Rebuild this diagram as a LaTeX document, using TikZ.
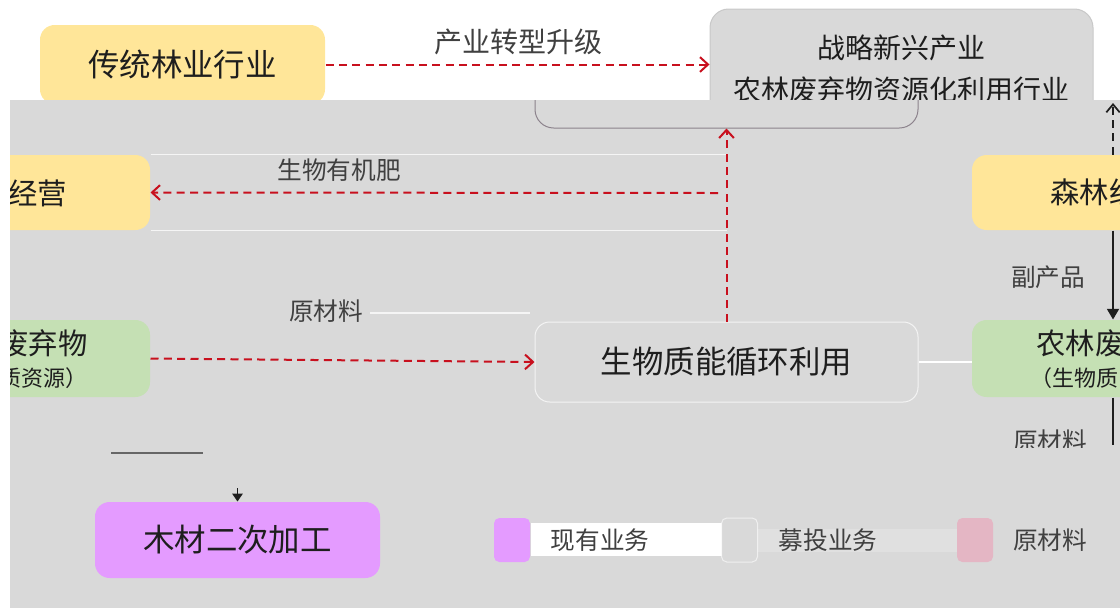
\documentclass[tikz,border=0pt]{standalone}
\usepackage{fontspec}
\newfontfamily\cjk{Noto Sans CJK SC}
\usetikzlibrary{arrows.meta}

\definecolor{panelgray}{RGB}{217,217,217}
\definecolor{boxyellow}{RGB}{255,230,153}
\definecolor{boxgreen}{RGB}{197,224,180}
\definecolor{boxviolet}{RGB}{228,155,255}
\definecolor{boxpink}{RGB}{228,182,196}
\definecolor{flowred}{RGB}{200,16,30}
\definecolor{inkdark}{RGB}{30,30,30}

\tikzset{every picture/.style={line width=0.75pt}}
\tikzset{
  bigbox/.style={rounded corners=11pt, inner sep=0pt, minimum width=213.75pt, minimum height=57pt},
  legsq/.style={rounded corners=4pt, inner sep=0pt, minimum width=27pt, minimum height=33pt},
  tA/.style={font=\cjk\fontsize{23.6}{28}\selectfont, text=inkdark},
  tB/.style={font=\cjk\fontsize{22}{26}\selectfont, text=inkdark},
  tC/.style={font=\cjk\fontsize{21}{31.5}\selectfont, text=inkdark, align=center},
  tD/.style={font=\cjk\fontsize{18.5}{22}\selectfont, text=inkdark!85},
  tE/.style={font=\cjk\fontsize{16.5}{20}\selectfont, text=inkdark},
  redflow/.style={draw=flowred, line width=1.5pt, dash pattern={on 6pt off 4pt}, -{Straight Barb[length=6pt,width=11pt]}},
  blkflow/.style={draw=inkdark, line width=1.3pt, -{Triangle[length=8pt,width=9pt]}},
  glitch/.style={draw=white, line width=1pt, opacity=.75}
}

\begin{document}
\begin{tikzpicture}[x=0.75pt,y=0.75pt,yscale=-1,xscale=1]
\useasboundingbox (0,0) rectangle (1120,608);

%Shape: top row
\node[bigbox, fill=boxyellow, minimum height=59.25pt, tA] (trad) at (182.5,64.5) {传统林业行业};
\node[bigbox, fill=panelgray, draw={rgb,255:red,200;green,200;blue,200}, minimum width=287.25pt, minimum height=90pt, rounded corners=14pt, tC] (strat) at (901.5,69) {战略新兴产业\\农林废弃物资源化利用行业};
\draw[redflow] (trad.east) -- (trad.east -| strat.west);
% Text Node
\node[tD, font=\cjk\fontsize{21}{25}\selectfont] (upgrade) at (518,42) {产业转型升级};

%Shape: panel
\fill[panelgray] (10,100) rectangle (1120,608);

\begin{scope}
\clip (10,100) rectangle (1120,608);
%Shape: boxes
\node[bigbox, fill=panelgray, draw={rgb,255:red,140;green,130;blue,140}, minimum width=287.25pt, minimum height=90pt, rounded corners=14pt] (stratlow) at (726.5,68) {};
\node[bigbox, fill=boxyellow, minimum height=56.25pt] (mgmt) at (7.5,192.5) {};
\node[bigbox, fill=boxgreen, minimum height=57.75pt] (lwaste) at (7.5,358.5) {};
\node[bigbox, fill=boxyellow, minimum height=56.25pt] (rforest) at (1114.5,192.5) {};
\node[bigbox, fill=boxgreen, minimum height=57.75pt] (rwaste) at (1114.5,358.5) {};
\node[bigbox, fill=panelgray, draw=white, draw opacity=.7, minimum width=287.25pt, minimum height=60pt, tA] (bio) at (726.5,362) {生物质能循环利用};
\node[bigbox, fill=boxviolet, tA] (wood) at (237.5,540) {木材二次加工};

% Text Node
\node[tB, anchor=west, inner sep=0pt] (mgmttxt) at (8,193) {经营};
\node[tB, anchor=west, inner sep=0pt] (lwastetxt) at (-1,343) {废弃物};
\node[tE, anchor=west, inner sep=0pt] (lwastesub) at (-1,378) {质资源）};
\node[tB, anchor=west, inner sep=0pt] (rforesttxt) at (1050,192) {森林经};
\node[tB, anchor=west, inner sep=0pt] (rwastetxt) at (1036,343) {农林废};
\node[tE, anchor=west, inner sep=0pt] (rwastesub) at (1030,378) {（生物质};

%Straight Lines
\draw[glitch] (mgmt.north east) -- (mgmt.north east -| bio.north);
\draw[glitch] (mgmt.south east) -- (mgmt.south east -| bio.north);
\draw[glitch] (370,313) -- (530,313);
\draw[white, line width=2pt] (bio.east) -- (bio.east -| rwaste.west);
\draw[line width=1.2pt, draw=gray!80!black] (111,453) -- (203,453);

%Straight Lines: flows
\coordinate (fork) at (718,193);
\draw[redflow] (bio.north) -- (stratlow.south);
\draw[redflow] (fork) -- (mgmt.east);
\draw[redflow] (lwaste.east) -- (bio.west);

\coordinate (rx) at (1113,0);
\coordinate (topend) at (1113,103);
\coordinate (lowend) at (1113,445);
\draw[draw=inkdark, line width=1.3pt, dash pattern={on 6pt off 4pt}, -{Straight Barb[length=6pt,width=10pt]}] (rforest.north -| rx) -- (topend);
\draw[blkflow] (rforest.south -| rx) -- (rwaste.north -| rx);
\draw[draw=inkdark, line width=1.3pt] (rwaste.south -| rx) -- (lowend);

\coordinate (woodin) at (237.5,488);
\draw[draw=inkdark, -{Triangle[length=6pt,width=8pt]}] (woodin) -- (wood.north);

% Text Node
\node[tD] (fertlbl) at (339,170) {生物有机肥};
\node[tD] (rawlbl) at (326,311) {原材料};
\node[tD] (bylbl) at (1048,277) {副产品};
\begin{scope}
\clip (990,420) rectangle (1110,447);
\node[tD] (rawlbl2) at (1050,441) {原材料};
\end{scope}

%Shape: legend
\node[legsq, fill=boxviolet] (legcur) at (512,540) {};
\fill[white] (legcur.east |- 0,523) rectangle (722,556);
\node[tD] (legcurtxt) at (600,540) {现有业务};
\fill[white, opacity=.2] (757,529) rectangle (957,552);
\node[legsq, fill=panelgray, draw=white, draw opacity=.6] (legnew) at (739.5,540) {};
\node[tD] (legnewtxt) at (828,540) {募投业务};
\node[legsq, fill=boxpink] (legraw) at (975,540) {};
\node[tD] (legrawtxt) at (1050,540) {原材料};
\end{scope}

\end{tikzpicture}
\end{document}
